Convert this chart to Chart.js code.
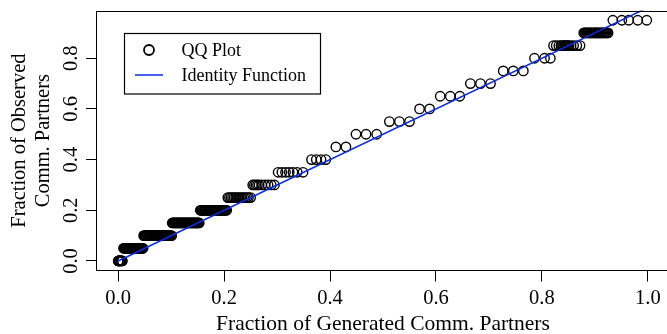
<!DOCTYPE html>
<html>
<head>
<meta charset="utf-8">
<script src="https://cdn.jsdelivr.net/npm/chart.js@4.4.1/dist/chart.umd.min.js"></script>
<style>
  html, body { margin: 0; padding: 0; overflow: hidden; background: #fff; width: 667px; height: 334px; }
  canvas { display: block; }
</style>
</head>
<body>
<canvas id="qq" width="680" height="334"></canvas>
<script>
// Observed fractions (y) and the generated-fraction quantiles (x) paired with each level
const observedLevels = [0.00, 0.05, 0.10, 0.15, 0.20, 0.25, 0.30, 0.35, 0.40, 0.45,
                        0.50, 0.55, 0.60, 0.65, 0.70, 0.75, 0.80, 0.85, 0.90, 0.95];
const generatedQuantiles = [
  [0.000, 0.0005, 0.001, 0.0015, 0.002, 0.003, 0.004, 0.005, 0.006, 0.007, 0.008],
  [0.010, 0.0115, 0.013, 0.0145, 0.016, 0.0175, 0.019, 0.0205, 0.022, 0.0235, 0.025, 0.0265, 0.028,
   0.0295, 0.031, 0.0325, 0.034, 0.0355, 0.037, 0.0385, 0.040, 0.0415, 0.043, 0.0445, 0.046, 0.047],
  [0.048, 0.0495, 0.051, 0.0525, 0.054, 0.0555, 0.057, 0.0585, 0.060, 0.0615, 0.063, 0.0645, 0.066,
   0.0675, 0.069, 0.0705, 0.072, 0.0735, 0.075, 0.0765, 0.078, 0.0795, 0.081, 0.0825, 0.084, 0.0855,
   0.087, 0.0885, 0.090, 0.0915, 0.093, 0.0945, 0.096, 0.0975, 0.099, 0.101],
  [0.102, 0.1035, 0.105, 0.1065, 0.108, 0.1095, 0.111, 0.1125, 0.114, 0.1155, 0.117, 0.1185, 0.120,
   0.1215, 0.123, 0.1245, 0.126, 0.1275, 0.129, 0.1305, 0.132, 0.1335, 0.135, 0.1365, 0.138, 0.1395,
   0.141, 0.1425, 0.144, 0.1455, 0.147, 0.1485, 0.150, 0.1515, 0.153],
  [0.155, 0.1565, 0.158, 0.1595, 0.161, 0.1625, 0.164, 0.1655, 0.167, 0.1685, 0.170, 0.1715, 0.173,
   0.1745, 0.176, 0.1775, 0.179, 0.1805, 0.182, 0.1835, 0.185, 0.1865, 0.188, 0.1895, 0.191, 0.1925,
   0.194, 0.1955, 0.197, 0.1985, 0.200, 0.2015, 0.203, 0.205],
  [0.207, 0.210, 0.213, 0.216, 0.219, 0.222, 0.225, 0.228, 0.231, 0.234, 0.237, 0.240, 0.243, 0.246, 0.250],
  [0.254, 0.257, 0.260, 0.263, 0.266, 0.271, 0.277, 0.283, 0.289, 0.295],
  [0.302, 0.309, 0.316, 0.323, 0.330, 0.338, 0.349],
  [0.365, 0.374, 0.383, 0.392],
  [0.411, 0.430],
  [0.449, 0.468, 0.488],
  [0.512, 0.531, 0.550],
  [0.569, 0.588],
  [0.608, 0.627, 0.645],
  [0.665, 0.684, 0.703],
  [0.727, 0.746, 0.765],
  [0.786, 0.805, 0.816],
  [0.822, 0.827, 0.832, 0.836, 0.839, 0.841, 0.843, 0.845, 0.847, 0.849, 0.851, 0.855, 0.860, 0.866, 0.872],
  [0.879, 0.881, 0.883, 0.885, 0.887, 0.889, 0.891, 0.893, 0.895, 0.897, 0.899, 0.901, 0.903,
   0.905, 0.907, 0.909, 0.911, 0.913, 0.915, 0.917, 0.919, 0.921, 0.923, 0.925],
  [0.934, 0.951, 0.964, 0.981, 0.998]
];
// Reference line y = x
const identityX = [0, 1];

const xTicks = [0.0, 0.2, 0.4, 0.6, 0.8, 1.0];
const yTicks = [0.0, 0.2, 0.4, 0.6, 0.8];
const seriesNames = ['QQ Plot', 'Identity Function'];
const xTitle = 'Fraction of Generated Comm. Partners';
const yTitle = ['Fraction of Observed', 'Comm. Partners'];

const qqPoints = observedLevels.flatMap((y, i) => generatedQuantiles[i].map(x => ({ x, y })));
const identityPoints = identityX.map(v => ({ x: v, y: v }));

const SERIF = "'Liberation Serif', 'Times New Roman', serif";
Chart.defaults.font.family = SERIF;
Chart.defaults.color = '#000';

// Plot frame plus a boxed key drawn inside the plotting region
const frameAndKey = {
  id: 'frameAndKey',
  afterDraw(chart) {
    const { ctx, chartArea: ca } = chart;
    ctx.save();
    ctx.strokeStyle = '#000';
    ctx.lineWidth = 1;
    const l = Math.round(ca.left) - 0.5, t = Math.round(ca.top) + 0.5;
    const r = Math.round(ca.right) + 0.5, b = Math.round(ca.bottom) - 0.5;
    ctx.strokeRect(l, t, r - l, b - t);

    // key box
    ctx.lineWidth = 1.2;
    ctx.strokeRect(124.5, 33.5, 196, 60.5);
    const ds = chart.data.datasets;
    // circle symbol
    ctx.beginPath();
    ctx.lineWidth = 1.8;
    ctx.strokeStyle = ds[0].borderColor;
    ctx.arc(149, 50, 5, 0, Math.PI * 2);
    ctx.stroke();
    // line symbol
    ctx.beginPath();
    ctx.lineWidth = 1.5;
    ctx.strokeStyle = ds[1].borderColor;
    ctx.moveTo(135, 75);
    ctx.lineTo(163, 75);
    ctx.stroke();
    ctx.fillStyle = '#000';
    ctx.font = '18px ' + SERIF;
    ctx.textBaseline = 'alphabetic';
    ctx.textAlign = 'left';
    ctx.fillText(ds[0].label, 181.5, 56);
    ctx.fillText(ds[1].label, 181.5, 81);
    ctx.restore();
  }
};

new Chart(document.getElementById('qq'), {
  type: 'scatter',
  data: {
    datasets: [
      {
        label: seriesNames[0],
        data: qqPoints,
        borderColor: '#000',
        backgroundColor: 'rgba(0,0,0,0)',
        pointRadius: 4.7,
        pointBorderWidth: 1.4,
        pointHoverRadius: 4.7,
        order: 1
      },
      {
        label: seriesNames[1],
        data: identityPoints,
        type: 'line',
        borderColor: '#0a2be6',
        borderWidth: 1.5,
        pointRadius: 0,
        fill: false,
        order: 0
      }
    ]
  },
  options: {
    responsive: false,
    animation: false,
    devicePixelRatio: 1,
    layout: { padding: { left: 0, top: 10.6, right: 11, bottom: 0 } },
    plugins: { legend: { display: false }, tooltip: { enabled: false } },
    scales: {
      x: {
        type: 'linear',
        min: -0.04,
        max: 1.04,
        afterBuildTicks: s => { s.ticks = xTicks.map(v => ({ value: v })); },
        afterFit: s => { s.height = 63.4; s.paddingLeft = 0; s.paddingRight = 0; },
        grid: { drawOnChartArea: false, drawTicks: true, tickLength: 11, tickColor: '#000', tickWidth: 1 },
        border: { display: false },
        ticks: {
          color: '#000',
          font: { size: 20.5 },
          padding: 5,
          maxRotation: 0,
          autoSkip: false,
          callback: v => Number(v).toFixed(1)
        },
        title: {
          display: true,
          text: xTitle,
          color: '#000',
          font: { size: 21.5, lineHeight: 0.93 },
          padding: { top: 0, bottom: 0 }
        }
      },
      y: {
        type: 'linear',
        min: -0.038,
        max: 0.988,
        afterBuildTicks: s => { s.ticks = yTicks.map(v => ({ value: v })); },
        afterFit: s => { s.width = 97; s.paddingTop = 0; s.paddingBottom = 0; },
        grid: { drawOnChartArea: false, drawTicks: true, tickLength: 11, tickColor: '#000', tickWidth: 1 },
        border: { display: false },
        ticks: {
          color: '#000',
          font: { size: 20.5 },
          padding: 2,
          minRotation: 90,
          maxRotation: 90,
          crossAlign: 'center',
          autoSkip: false,
          callback: v => Number(v).toFixed(1)
        },
        title: {
          display: true,
          text: yTitle,
          color: '#000',
          font: { size: 20.5, lineHeight: 1.13 },
          padding: { top: 8.5, bottom: 0 }
        }
      }
    }
  },
  plugins: [frameAndKey]
});
</script>
</body>
</html>
